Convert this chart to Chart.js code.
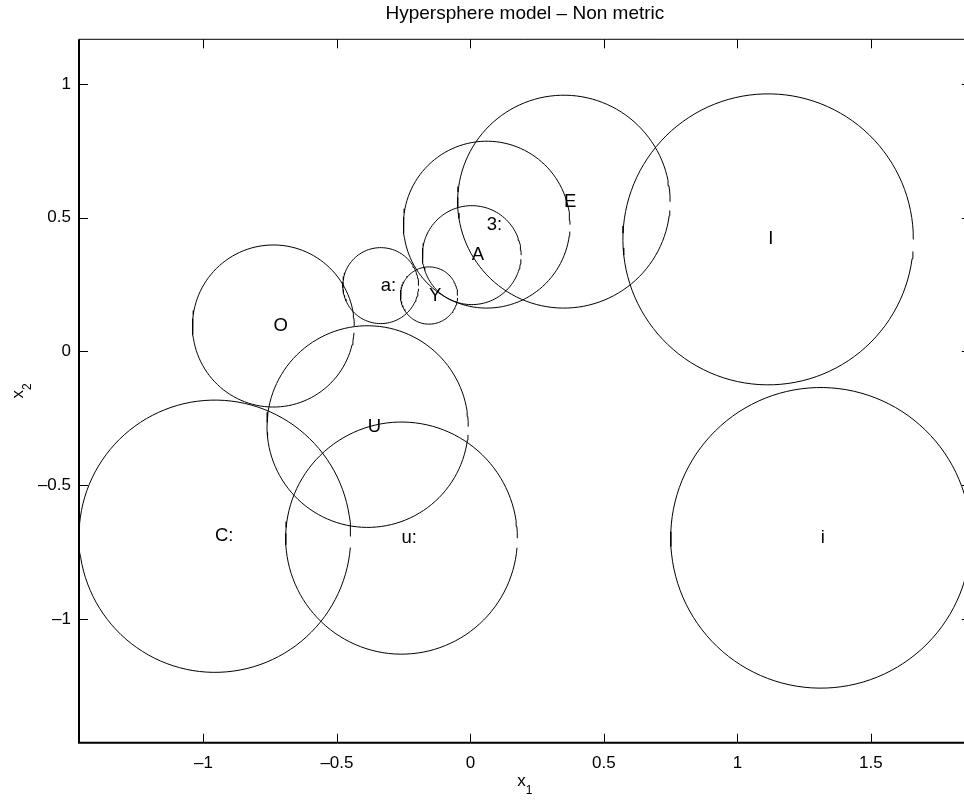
<!DOCTYPE html>
<html>
<head>
<meta charset="utf-8">
<script src="https://cdn.jsdelivr.net/npm/chart.js@4.4.1/dist/chart.umd.min.js"></script>
<style>
  html, body { margin: 0; padding: 0; background: #fff; overflow: hidden; }
  #wrap { width: 964px; height: 802px; overflow: hidden; }
  canvas { display: block; }
</style>
</head>
<body>
<div id="wrap"><canvas id="chart" width="972" height="802"></canvas></div>
<script>
// Sphere labels, centres and radii (data units)
const CATEGORIES = ["O", "a:", "Y", "A", "3:", "E", "I", "U", "C:", "u:", "i"];
const CENTER_X = [-0.738, -0.336, -0.155, 0.005, 0.061, 0.350, 1.115, -0.385, -0.957, -0.258, 1.312];
const CENTER_Y = [0.095, 0.246, 0.209, 0.360, 0.474, 0.560, 0.419, -0.281, -0.691, -0.698, -0.697];
const RADIUS = [0.303, 0.142, 0.107, 0.185, 0.312, 0.398, 0.544, 0.377, 0.509, 0.434, 0.562];

// Axis ticks
const X_TICKS = [-1, -0.5, 0, 0.5, 1, 1.5];
const Y_TICKS = [-1, -0.5, 0, 0.5, 1];
const X_RANGE = [-1.466, 1.874];
const Y_RANGE = [-1.463, 1.167];

const FONT = '"Liberation Sans", Arial, Helvetica, sans-serif';

// outline of a circle: angle 0 .. 6.2 (leaves a small gap at the right, like the original)
function circlePoints(cx, cy, r) {
  const pts = [];
  for (let k = 0; k <= 124; k++) {
    const t = k * 0.05;
    pts.push({ x: cx + r * Math.cos(t), y: cy + r * Math.sin(t) });
  }
  return pts;
}

const datasets = CATEGORIES.map((name, i) => ({
  label: name,
  data: circlePoints(CENTER_X[i], CENTER_Y[i], RADIUS[i]),
  showLine: true,
  borderColor: "#000",
  borderWidth: 1,
  pointRadius: 0,
  fill: false,
  tension: 0,
}));

function fmtTick(v) {
  return v < 0 ? "\u2013" + Math.abs(v) : String(v);
}

const overlay = {
  id: "overlay",
  afterDatasetsDraw(chart) {
    const { ctx, scales } = chart;
    ctx.save();
    ctx.fillStyle = "#000";
    ctx.font = "18.5px " + FONT;
    ctx.textAlign = "left";
    ctx.textBaseline = "middle";
    CATEGORIES.forEach((name, i) => {
      ctx.fillText(name, scales.x.getPixelForValue(CENTER_X[i]), scales.y.getPixelForValue(CENTER_Y[i]));
    });
    ctx.restore();
  },
  afterDraw(chart) {
    const { ctx, chartArea: a, scales } = chart;
    ctx.save();
    ctx.strokeStyle = "#000";

    // top and right border
    ctx.lineWidth = 1;
    ctx.beginPath();
    ctx.moveTo(a.left, a.top);
    ctx.lineTo(a.right, a.top);
    ctx.lineTo(a.right, a.bottom);
    ctx.stroke();

    // tick marks, pointing inward on all sides
    const tl = 9;
    ctx.beginPath();
    X_TICKS.forEach(v => {
      const px = Math.round(scales.x.getPixelForValue(v)) + 0.5;
      ctx.moveTo(px, a.bottom); ctx.lineTo(px, a.bottom - tl);
      ctx.moveTo(px, a.top); ctx.lineTo(px, a.top + tl);
    });
    Y_TICKS.forEach(v => {
      const py = Math.round(scales.y.getPixelForValue(v)) + 0.5;
      ctx.moveTo(a.left, py); ctx.lineTo(a.left + tl, py);
      ctx.moveTo(a.right, py); ctx.lineTo(a.right - tl, py);
    });
    ctx.stroke();

    // left and bottom axis lines
    ctx.lineWidth = 2;
    ctx.beginPath();
    ctx.moveTo(a.left, a.top);
    ctx.lineTo(a.left, a.bottom);
    ctx.lineTo(a.right, a.bottom);
    ctx.stroke();

    // title
    const cx = (a.left + a.right) / 2;
    ctx.fillStyle = "#000";
    ctx.textAlign = "center";
    ctx.textBaseline = "middle";
    ctx.font = "19px " + FONT;
    ctx.fillText("Hypersphere model \u2013 Non metric", cx, 14);

    // x label with subscript
    ctx.textAlign = "left";
    ctx.font = "17px " + FONT;
    const wx = ctx.measureText("x").width;
    ctx.font = "12px " + FONT;
    const w1 = ctx.measureText("1").width;
    const x0 = cx - (wx + w1) / 2;
    ctx.font = "17px " + FONT;
    ctx.fillText("x", x0, 781);
    ctx.font = "12px " + FONT;
    ctx.fillText("1", x0 + wx, 791);

    // y label, rotated
    ctx.translate(18, (a.top + a.bottom) / 2);
    ctx.rotate(-Math.PI / 2);
    ctx.font = "17px " + FONT;
    const y0 = -(wx + w1) / 2;
    ctx.fillText("x", y0, 0);
    ctx.font = "12px " + FONT;
    ctx.fillText("2", y0 + wx, 10);
    ctx.restore();
  },
};

new Chart(document.getElementById("chart"), {
  type: "scatter",
  data: { datasets },
  options: {
    responsive: false,
    animation: false,
    events: [],
    layout: { padding: { top: 39.3, right: 1.2, left: 0, bottom: 0 } },
    plugins: { legend: { display: false }, title: { display: false }, tooltip: { enabled: false } },
    scales: {
      x: {
        type: "linear",
        min: X_RANGE[0],
        max: X_RANGE[1],
        grid: { display: false, drawTicks: false },
        border: { display: false },
        afterBuildTicks: s => { s.ticks = X_TICKS.map(v => ({ value: v })); },
        afterFit: s => { s.height = 59.3; },
        ticks: { color: "#000", padding: 10, maxRotation: 0, font: { family: FONT, size: 17 }, callback: v => fmtTick(v) },
      },
      y: {
        type: "linear",
        min: Y_RANGE[0],
        max: Y_RANGE[1],
        grid: { display: false, drawTicks: false },
        border: { display: false },
        afterBuildTicks: s => { s.ticks = Y_TICKS.map(v => ({ value: v })); },
        afterFit: s => { s.width = 79; },
        ticks: { color: "#000", padding: 8, font: { family: FONT, size: 17 }, callback: v => fmtTick(v) },
      },
    },
  },
  plugins: [overlay],
});
</script>
</body>
</html>
